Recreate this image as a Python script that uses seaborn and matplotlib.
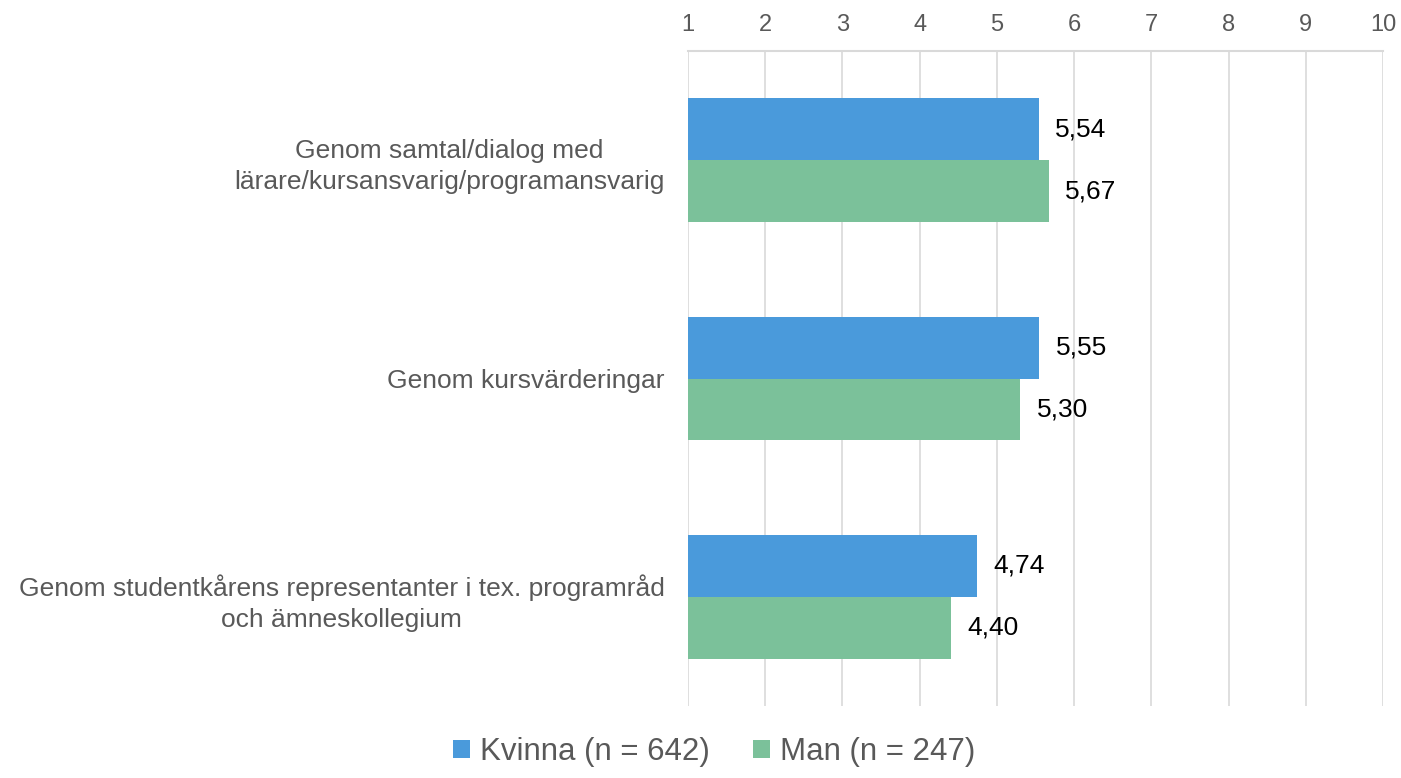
import matplotlib
matplotlib.use("Agg")
import matplotlib.pyplot as plt
import seaborn as sns
import pandas as pd
from matplotlib.patches import Patch

# Survey means on a 1-10 scale, per channel and gender
categories = [
    "Genom samtal/dialog med\nlärare/kursansvarig/programansvarig",
    "Genom kursvärderingar",
    "Genom studentkårens representanter i tex. programråd\noch ämneskollegium",
]
series_names = ["Kvinna (n = 642)", "Man (n = 247)"]
kvinna = [5.54, 5.55, 4.74]
man = [5.67, 5.30, 4.40]
x_ticks = list(range(1, 11))

colors = ["#4A9ADB", "#7BC19A"]
grid_color = "#D9D9D9"
text_grey = "#595959"

df = pd.DataFrame({
    "kategori": categories * 2,
    "grupp": [series_names[0]] * 3 + [series_names[1]] * 3,
    "medel": kvinna + man,
})

sns.set_theme(style="white")
plt.rcParams["font.family"] = ["Liberation Sans", "DejaVu Sans"]

W, H = 1401, 778
fig = plt.figure(figsize=(W / 100, H / 100), dpi=100)
ax = fig.add_axes([688 / W, 1 - 706 / H, (1383 - 688) / W, (706 - 51) / H])

sns.barplot(data=df, y="kategori", x="medel", hue="grupp", order=categories,
            hue_order=series_names, palette=colors, orient="h", width=0.567,
            gap=0, saturation=1, linewidth=0, ax=ax, legend=False, zorder=3)

ax.set_xlim(1, 10)
ax.set_ylim(2.5, -0.5)
ax.set_xticks(x_ticks)
ax.set_xticklabels([str(t) for t in x_ticks])
ax.xaxis.tick_top()
ax.tick_params(axis="x", length=0, pad=11, labelsize=17, labelcolor=text_grey)
ax.tick_params(axis="y", length=0, pad=17, labelsize=19, labelcolor=text_grey)
for lbl in ax.get_yticklabels():
    lbl.set_multialignment("center")
    lbl.set_linespacing(1.38)
ax.set_xlabel("")
ax.set_ylabel("")

ax.grid(axis="x", color=grid_color, linewidth=1.2, zorder=0)
ax.grid(axis="y", visible=False)
for side in ["left", "right", "bottom"]:
    ax.spines[side].set_visible(False)
ax.spines["top"].set_visible(True)
ax.spines["top"].set_color(grid_color)
ax.spines["top"].set_linewidth(1.5)

for cont in ax.containers:
    ax.bar_label(cont, labels=[f"{v:.2f}".replace(".", ",") for v in cont.datavalues],
                 padding=12, fontsize=19, color="black")

handles = [Patch(facecolor=c, edgecolor="none") for c in colors]
fig.legend(handles, series_names, loc="center", bbox_to_anchor=(714 / W, 1 - 752 / H),
           ncol=2, frameon=False, fontsize=22.5, labelcolor=text_grey,
           handlelength=0.55, handleheight=0.55, handletextpad=0.3, columnspacing=1.4)

fig.savefig("out.png", dpi=100)
